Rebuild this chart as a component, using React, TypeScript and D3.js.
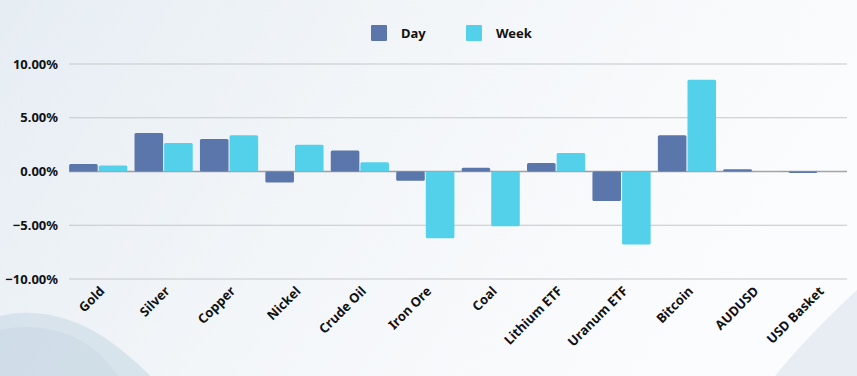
import React, { useEffect, useRef } from "react";
import * as d3 from "d3";

const categories = ["Gold", "Silver", "Copper", "Nickel", "Crude Oil", "Iron Ore", "Coal", "Lithium ETF", "Uranum ETF", "Bitcoin", "AUDUSD", "USD Basket"];
const dayValues = [0.69, 3.59, 3.03, -1.02, 1.95, -0.86, 0.34, 0.78, -2.75, 3.38, 0.22, -0.15];
const weekValues = [0.56, 2.66, 3.38, 2.48, 0.87, -6.22, -5.1, 1.71, -6.8, 8.54, 0.02, 0.01];
const yTicks = [10, 5, 0, -5, -10];
const seriesNames = ["Day", "Week"];
const seriesColors = ["#5a76aa", "#53d1eb"];

const W = 857;
const H = 376;
const FONT = "'Noto Sans', 'Open Sans', sans-serif";

export default function App() {
  const ref = useRef<SVGSVGElement | null>(null);

  useEffect(() => {
    const svg = d3.select(ref.current);
    svg.selectAll("*").remove();

    const defs = svg.append("defs");
    const bg = defs.append("linearGradient").attr("id", "bg").attr("x1", "0").attr("y1", "0").attr("x2", "1").attr("y2", "0.3");
    bg.append("stop").attr("offset", "0").attr("stop-color", "#e6edf3");
    bg.append("stop").attr("offset", "0.5").attr("stop-color", "#f3f6f9");
    bg.append("stop").attr("offset", "1").attr("stop-color", "#fbfcfd");
    svg.append("rect").attr("width", W).attr("height", H).attr("fill", "url(#bg)");

    // decorative waves
    svg.append("path")
      .attr("d", "M0,316 C30,308 70,314 105,338 C125,352 140,365 150,376 L0,376 Z")
      .attr("fill", "#d3e0ea").attr("opacity", 0.85);
    svg.append("path")
      .attr("d", "M0,330 C35,322 70,330 95,350 C105,358 112,368 118,376 L0,376 Z")
      .attr("fill", "#c7d7e3").attr("opacity", 0.5);
    svg.append("path")
      .attr("d", "M857,290 C830,315 800,345 775,376 L857,376 Z")
      .attr("fill", "#e4ebf1").attr("opacity", 0.9);

    const x0 = d3.scaleBand<string>().domain(categories).range([65.5, 850.5]).paddingInner(0.11).paddingOuter(0.055);
    const x1 = d3.scaleBand<string>().domain(seriesNames).range([0, x0.bandwidth()]).paddingInner(0.035);
    const y = d3.scaleLinear().domain([-10, 10]).range([279, 64]);

    const gridLeft = 69;
    const gridRight = 847;

    // gridlines
    svg.append("g").selectAll("line").data(yTicks.filter((t) => t !== 0)).join("line")
      .attr("x1", gridLeft).attr("x2", gridRight)
      .attr("y1", (d) => y(d)).attr("y2", (d) => y(d))
      .attr("stroke", "#c4c7cc").attr("stroke-width", 1);

    // y labels
    svg.append("g").selectAll("text").data(yTicks).join("text")
      .attr("x", 58).attr("y", (d) => y(d)).attr("dy", "0.35em")
      .attr("text-anchor", "end")
      .attr("font-family", FONT).attr("font-weight", 700).attr("font-size", 13)
      .attr("fill", "#111")
      .text((d) => d3.format(".2f")(d) + "%");

    // zero line
    svg.append("line").attr("x1", gridLeft).attr("x2", gridRight).attr("y1", y(0)).attr("y2", y(0))
      .attr("stroke", "#9a9ea4").attr("stroke-width", 1.5);

    // bars
    const groups = svg.append("g").selectAll("g").data(categories).join("g")
      .attr("transform", (d) => `translate(${x0(d)},0)`);
    groups.selectAll("rect")
      .data((d, i) => [
        { s: seriesNames[0], v: dayValues[i], c: seriesColors[0] },
        { s: seriesNames[1], v: weekValues[i], c: seriesColors[1] },
      ])
      .join("rect")
      .attr("x", (d) => x1(d.s)!)
      .attr("width", x1.bandwidth())
      .attr("y", (d) => Math.min(y(d.v), y(0)))
      .attr("height", (d) => Math.max(Math.abs(y(d.v) - y(0)), 0.5))
      .attr("rx", 1.5)
      .attr("fill", (d) => d.c);

    // x labels
    svg.append("g").selectAll("text").data(categories).join("text")
      .attr("transform", (d) => `translate(${x0(d)! + x0.bandwidth() / 2 + 7},292) rotate(-45)`)
      .attr("text-anchor", "end")
      .attr("font-family", FONT).attr("font-weight", 700).attr("font-size", 13)
      .attr("fill", "#111")
      .text((d) => d);

    // legend
    const legendX = [371, 466];
    const lg = svg.append("g").selectAll("g").data(seriesNames).join("g")
      .attr("transform", (d, i) => `translate(${legendX[i]},25)`);
    lg.append("rect").attr("width", 16).attr("height", 16).attr("rx", 1).attr("fill", (d, i) => seriesColors[i]);
    lg.append("text").attr("x", 30).attr("y", 8).attr("dy", "0.35em")
      .attr("font-family", FONT).attr("font-weight", 700).attr("font-size", 13)
      .attr("fill", "#111").text((d) => d);
  }, []);

  return (
    <div style={{ position: "fixed", left: 0, top: 0, width: W, height: H }}>
      <svg ref={ref} width={W} height={H} style={{ display: "block" }} />
    </div>
  );
}
